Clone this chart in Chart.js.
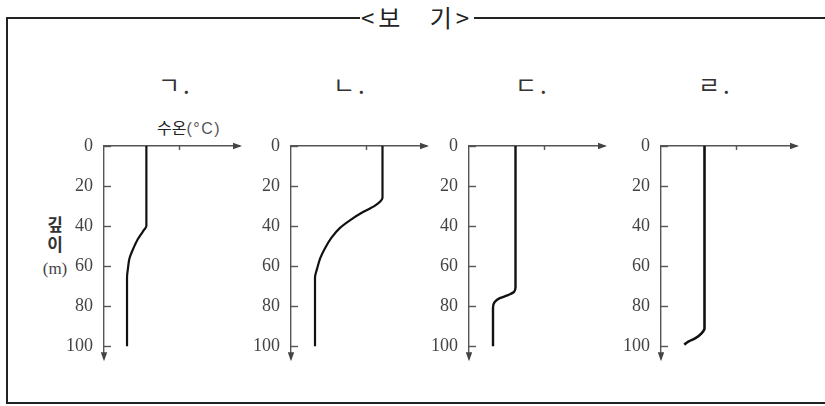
<!DOCTYPE html>
<html><head><meta charset="utf-8">
<script src="https://cdn.jsdelivr.net/npm/chart.js@4"></script>
<style>
html,body{margin:0;padding:0;background:#fff;}
#page{position:relative;width:825px;height:406px;overflow:hidden;background:#fff;}
#frame{position:absolute;left:6px;top:17px;width:900px;height:387px;border:2px solid #222;box-sizing:border-box;}
#title{position:absolute;left:0;width:834px;top:2px;text-align:center;font-family:"Noto Sans CJK KR";font-size:24px;line-height:30px;color:#222;}
#title span{background:#fff;padding:0 1px;letter-spacing:4px;word-spacing:16px;}
.pl{position:absolute;top:70px;font-family:"Noto Sans CJK KR";font-size:24px;line-height:28px;color:#333;letter-spacing:3px;}
.cv{position:absolute;top:120px;}
#unitT{position:absolute;left:157px;top:116px;font-family:"Noto Sans CJK KR";font-size:16px;line-height:22px;color:#222;}
#unitT i{font-style:normal;font-family:"Liberation Sans";color:#555;letter-spacing:1.5px;font-size:16px;}
.dl{position:absolute;width:30px;left:40px;text-align:center;color:#333;}
</style></head>
<body>
<div id="page">
  <div id="frame"></div>
  <div id="title"><span>&lt;보 기&gt;</span></div>
  <div id="labels"></div>
  <div id="unitT">수온<i>(°C)</i></div>
  <div class="dl" style="top:214px;font-family:'Noto Sans CJK KR';font-weight:bold;font-size:17px;line-height:20px;">깊</div>
  <div class="dl" style="top:234px;font-family:'Noto Sans CJK KR';font-weight:bold;font-size:17px;line-height:20px;">이</div>
  <div class="dl" style="top:259px;left:37px;width:36px;font-family:'Liberation Serif';font-size:17px;line-height:20px;color:#444;">(m)</div>
</div>
<script>
// ---- data ----
const depthTicks = [0, 20, 40, 60, 80, 100];
const panelNames = ['ㄱ.', 'ㄴ.', 'ㄷ.', 'ㄹ.'];
const tempTick = [10];

const depthA = [0, 40, 42.6, 46.6, 51.3, 56.1, 61, 65.7, 100];
const tempA  = [5.65, 5.65, 5.2, 4.5, 3.9, 3.4, 3.2, 3.07, 3.07];

const depthB = [0, 25.8, 29.8, 33, 37, 41, 45.8, 51.3, 56, 61, 65.7, 100];
const tempB  = [12.2, 12.2, 11.2, 9.6, 7.9, 6.5, 5.4, 4.5, 3.9, 3.5, 3.2, 3.2];

const depthC = [0, 70.5, 72.9, 74.5, 76, 78, 80.8, 100];
const tempC  = [6.2, 6.2, 6.0, 5.2, 4.1, 3.4, 3.2, 3.2];

const depthD = [0, 91.2, 93.6, 96, 97.6, 99.2];
const tempD  = [5.8, 5.8, 5.4, 4.6, 3.7, 3.1];

// ---- layout ----
const panelAxisX = [104, 291, 469, 661];
const labelX = [158, 333, 515, 698];
const lineWidths = [2.2, 2.2, 2.4, 2.6];
const panels = [[depthA, tempA], [depthB, tempB], [depthC, tempC], [depthD, tempD]];

const page = document.getElementById('page');
panelNames.forEach((n, i) => {
  const d = document.createElement('div');
  d.className = 'pl';
  d.style.left = labelX[i] + 'px';
  d.textContent = n;
  page.appendChild(d);
});

const axisDeco = {
  id: 'axisDeco',
  afterDraw(chart) {
    const ctx = chart.ctx, ca = chart.chartArea;
    const xs = chart.scales.x, ys = chart.scales.y;
    ctx.save();
    ctx.strokeStyle = '#555';
    ctx.fillStyle = '#444';
    ctx.lineWidth = 1.4;
    ys.ticks.forEach(t => {
      const py = Math.round(ys.getPixelForValue(t.value)) + 0.5;
      ctx.beginPath(); ctx.moveTo(ca.left, py); ctx.lineTo(ca.left + 7, py); ctx.stroke();
    });
    xs.ticks.forEach(t => {
      const px = Math.round(xs.getPixelForValue(t.value)) + 0.5;
      ctx.beginPath(); ctx.moveTo(px, ca.top); ctx.lineTo(px, ca.top + 4); ctx.stroke();
    });
    // arrow heads
    ctx.beginPath();
    ctx.moveTo(ca.right + 3, ca.top);
    ctx.lineTo(ca.right - 6, ca.top - 3.2);
    ctx.lineTo(ca.right - 6, ca.top + 3.2);
    ctx.closePath(); ctx.fill();
    ctx.beginPath();
    ctx.moveTo(ca.left, ca.bottom + 3);
    ctx.lineTo(ca.left - 3.2, ca.bottom - 6);
    ctx.lineTo(ca.left + 3.2, ca.bottom - 6);
    ctx.closePath(); ctx.fill();
    ctx.restore();
  }
};

panels.forEach(([depths, temps], i) => {
  const c = document.createElement('canvas');
  c.className = 'cv';
  c.width = 190; c.height = 260;
  c.style.left = (panelAxisX[i] - 45) + 'px';
  c.style.width = '190px'; c.style.height = '260px';
  page.appendChild(c);
  new Chart(c, {
    type: 'line',
    data: {
      datasets: [{
        data: depths.map((d, k) => ({ x: temps[k], y: d })),
        borderColor: '#111',
        borderWidth: lineWidths[i],
        pointRadius: 0,
        fill: false,
        cubicInterpolationMode: 'monotone'
      }]
    },
    options: {
      indexAxis: 'y',
      responsive: false,
      animation: false,
      devicePixelRatio: 1,
      layout: { padding: { left: 0, right: 10, top: 26, bottom: 12.5 } },
      plugins: { legend: { display: false }, tooltip: { enabled: false } },
      scales: {
        x: {
          type: 'linear', position: 'top', min: 0, max: 18,
          grid: { display: false, drawTicks: false },
          border: { display: true, color: '#555', width: 1.4 },
          ticks: { display: false },
          afterBuildTicks: s => { s.ticks = tempTick.map(v => ({ value: v })); },
          afterFit: s => { s.height = 0; }
        },
        y: {
          type: 'linear', reverse: true, min: 0, max: 106,
          grid: { display: false, drawTicks: false },
          border: { display: true, color: '#555', width: 1.4 },
          ticks: {
            color: '#444', padding: 11,
            font: { family: 'Liberation Serif', size: 18 },
            callback: v => String(v)
          },
          afterBuildTicks: s => { s.ticks = depthTicks.map(v => ({ value: v })); },
          afterFit: s => { s.width = 45; }
        }
      }
    },
    plugins: [axisDeco]
  });
});
</script>
</body></html>
